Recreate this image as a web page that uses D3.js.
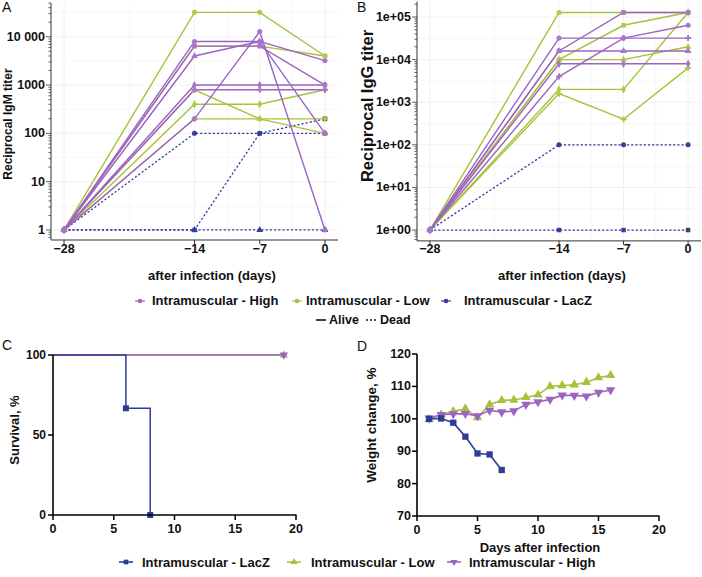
<!DOCTYPE html>
<html><head><meta charset="utf-8">
<script src="https://cdn.jsdelivr.net/npm/d3@7"></script>
<style>
body{margin:0;background:#fff}
text{font-family:"Liberation Sans",Arial,sans-serif}
</style>
</head><body>
<svg id="c" width="702" height="577"></svg>
<script>
// ---------- DATA ----------
const titerDays = [-28, -14, -7, 0];
// Panel A: reciprocal IgM titer per mouse
const igmHigh = [
  [1, 8000, 8000, 3200],
  [1, 6400, 6400, 1000],
  [1, 4000, 8000, 100],
  [1, 1000, 1000, 1000],
  [1, 800, 800, 800],
  [1, 200, 12800, 1]
];
const igmLow = [
  [1, 32000, 32000, 4000],
  [1, 6400, 6400, 4000],
  [1, 800, 200, 100],
  [1, 400, 400, 800],
  [1, 200, 200, 200]
];
const igmLacZ = [
  [1, 100, 100, 100],
  [1, 1, 100, 200],
  [1, 1, 1, 1]
];
// Panel B: reciprocal IgG titer per mouse
const iggHigh = [
  [1, 32000, 32000, 64000],
  [1, 16000, 128000, 128000],
  [1, 16000, 16000, 16000],
  [1, 8000, 8000, 8000],
  [1, 4000, 32000, 32000]
];
const iggLow = [
  [1, 128000, 128000, 128000],
  [1, 10000, 64000, 128000],
  [1, 10000, 10000, 20000],
  [1, 2000, 2000, 128000],
  [1, 1600, 400, 6400]
];
const iggLacZ = [
  [1, 100, 100, 100],
  [1, 1, 1, 1]
];
const igmTicks = [1, 10, 100, 1000, 10000];
const igmTickLabels = ["1", "10", "100", "1000", "10 000"];
const iggTicks = [1, 10, 100, 1000, 10000, 100000];
const iggTickLabels = ["1e+00", "1e+01", "1e+02", "1e+03", "1e+04", "1e+05"];

// Panel C: survival
const survLacZDays = [0, 6, 8];
const survLacZ = [100, 66.7, 0];
const survLowDays = [0, 19];
const survLow = [100, 100];
const survHighDays = [0, 19];
const survHigh = [100, 100];

// Panel D: weight change
const weightDays = [1,2,3,4,5,6,7,8,9,10,11,12,13,14,15,16];
const weightLacZ = [100, 100.1, 98.8, 94.5, 89.3, 89.0, 84.2];
const weightLow = [99.8, 101.3, 102.3, 103.1, 100.4, 104.4, 105.7, 105.8, 106.6, 107.4, 110.0, 110.3, 110.5, 111.3, 112.7, 113.4];
const weightHigh = [100.2, 101.3, 101.5, 101.6, 100.9, 102.6, 102.1, 102.4, 104.4, 105.2, 106.0, 107.3, 107.2, 107.0, 108.1, 108.9];

const groupNames = ["Intramuscular - High", "Intramuscular - Low", "Intramuscular - LacZ"];

// ---------- STYLE ----------
const PURPLE = "#9d63c3", GREEN = "#a6c23b", BLUE = "#2e3c98";
const PURPLE_M = "#a874cc", GREEN_M = "#b0c94a", BLUE_M = "#34409c";
const FONT = '"Liberation Sans", Arial, sans-serif';
const svg = d3.select("#c");

function txt(x, y, s, size, opts = {}) {
  const t = svg.append("text").attr("x", x).attr("y", y).text(s)
    .attr("font-size", size).attr("font-weight", opts.weight || "bold")
    .attr("fill", opts.fill || "#111")
    .attr("text-anchor", opts.anchor || "start")
    .attr("dominant-baseline", opts.baseline || "central");
  if (opts.rotate) t.attr("transform", `rotate(-90 ${x} ${y})`);
  return t;
}

const markShapes = [d3.symbolCircle, d3.symbolSquare, d3.symbolTriangle, d3.symbolDiamond, d3.symbolCross, d3.symbolCircle];

function drawTiter(p) {
  const g = svg.append("g");
  const x = d3.scaleLinear().domain(p.xDomain).range(p.xRange);
  const y = d3.scaleLog().domain(p.yDomain).range(p.yRange);
  const [xl, xr] = p.xRange, [yb, yt] = p.yRange;
  // grid (major + minor, very faint)
  const ld = d3.range(Math.floor(Math.log10(p.yDomain[0])), Math.ceil(Math.log10(p.yDomain[1])) + 1);
  ld.forEach(d => {
    const mv = Math.pow(10, d + 0.5);
    if (mv > p.yDomain[0] && mv < p.yDomain[1])
      g.append("line").attr("x1", xl).attr("x2", xr).attr("y1", y(mv)).attr("y2", y(mv)).attr("stroke", "#f2f2f2").attr("stroke-width", 0.6);
  });
  p.yTicks.forEach(v => g.append("line").attr("x1", xl).attr("x2", xr).attr("y1", y(v)).attr("y2", y(v)).attr("stroke", "#ebebeb").attr("stroke-width", 0.7));
  [-21, -10.5, -3.5].forEach(v => g.append("line").attr("x1", x(v)).attr("x2", x(v)).attr("y1", yb).attr("y2", yt).attr("stroke", "#f2f2f2").attr("stroke-width", 0.6));
  titerDays.forEach(v => g.append("line").attr("x1", x(v)).attr("x2", x(v)).attr("y1", yb).attr("y2", yt).attr("stroke", "#ebebeb").attr("stroke-width", 0.7));

  // lines
  const line = d3.line().x((d, i) => x(titerDays[i])).y(d => y(d));
  p.groups.forEach(gr => gr.data.forEach(vals => {
    g.append("path").attr("d", line(vals)).attr("fill", "none")
      .attr("stroke", gr.color).attr("stroke-width", gr.dashed ? 1.3 : 1.4)
      .attr("stroke-dasharray", gr.dashed ? "2.2,2" : null);
  }));
  // markers
  p.groups.forEach(gr => gr.data.forEach((vals, k) => {
    const sym = d3.symbol().type(markShapes[k % markShapes.length]).size(20);
    vals.forEach((v, i) => {
      g.append("path").attr("d", sym()).attr("transform", `translate(${x(titerDays[i])},${y(v)})`)
        .attr("fill", (gr.dashed && k === 1 && i === 3) ? "#3c3f6e" : gr.mark);
    });
  }));

  // axes
  const ax = svg.append("g");
  ax.append("line").attr("x1", xl).attr("x2", xl).attr("y1", yb).attr("y2", yt).attr("stroke", "#333").attr("stroke-width", 1);
  ax.append("line").attr("x1", xl).attr("x2", xr).attr("y1", yb).attr("y2", yb).attr("stroke", "#333").attr("stroke-width", 1);
  // log minor ticks
  ld.forEach(d => {
    for (let k = 1; k <= 9; k++) {
      const v = k * Math.pow(10, d);
      if (v < p.yDomain[0] || v > p.yDomain[1]) continue;
      const len = k === 1 ? 5 : 2.5;
      ax.append("line").attr("x1", xl - len).attr("x2", xl).attr("y1", y(v)).attr("y2", y(v)).attr("stroke", "#333").attr("stroke-width", 0.8);
    }
  });
  p.yTicks.forEach((v, i) => txt(xl - 6, y(v), p.yLabels[i], 12.5, { anchor: "end" }));
  titerDays.forEach(v => {
    ax.append("line").attr("x1", x(v)).attr("x2", x(v)).attr("y1", yb).attr("y2", yb + 4).attr("stroke", "#333");
    txt(x(v), yb + 8.5, v < 0 ? "\u2212" + Math.abs(v) : String(v), 12.5, { anchor: "middle" });
  });
  txt(p.xTitlePos[0], p.xTitlePos[1], "after infection (days)", 13, { anchor: "middle" });
  txt(p.yTitlePos[0], p.yTitlePos[1], p.yTitle, p.yTitleSize, { anchor: "middle", rotate: true });
}

drawTiter({
  xDomain: [-29.4, 1.4], xRange: [51, 338],
  yDomain: [Math.pow(10, -0.2076), Math.pow(10, 4.699)], yRange: [240, 3],
  yTicks: igmTicks, yLabels: igmTickLabels,
  groups: [
    { data: igmLacZ, color: BLUE, mark: BLUE_M, dashed: true },
    { data: igmLow, color: GREEN, mark: GREEN_M },
    { data: igmHigh, color: PURPLE, mark: PURPLE_M }
  ],
  xTitlePos: [212, 275], yTitlePos: [8, 124], yTitle: "Reciprocal IgM titer", yTitleSize: 12
});
drawTiter({
  xDomain: [-29.4, 1.4], xRange: [417, 701],
  yDomain: [Math.pow(10, -0.255), Math.pow(10, 5.362)], yRange: [240.9, 1.6],
  yTicks: iggTicks, yLabels: iggTickLabels,
  groups: [
    { data: iggLacZ, color: BLUE, mark: BLUE_M, dashed: true },
    { data: iggLow, color: GREEN, mark: GREEN_M },
    { data: iggHigh, color: PURPLE, mark: PURPLE_M }
  ],
  xTitlePos: [562, 275], yTitlePos: [367, 106], yTitle: "Reciprocal IgG titer", yTitleSize: 16.5
});

// panel letters
txt(2, 12, "A", 14, { weight: "normal", baseline: "alphabetic" });
txt(357, 12, "B", 14, { weight: "normal", baseline: "alphabetic" });
txt(2, 350, "C", 14, { weight: "normal", baseline: "alphabetic" });
txt(357, 351, "D", 14, { weight: "normal", baseline: "alphabetic" });

// top legend
const topLeg = [
  { name: groupNames[0], color: PURPLE, cx: 140, tx: 152 },
  { name: groupNames[1], color: GREEN, cx: 297, tx: 306 },
  { name: groupNames[2], color: BLUE, cx: 446, tx: 464 }
];
topLeg.forEach(l => {
  svg.append("line").attr("x1", l.cx - 5).attr("x2", l.cx + 5).attr("y1", 301).attr("y2", 301).attr("stroke", l.color).attr("stroke-width", 1.2);
  svg.append("path").attr("d", d3.symbol().type(d3.symbolCircle).size(16)()).attr("transform", `translate(${l.cx},301)`).attr("fill", l.color);
  txt(l.tx, 300.5, l.name, 13);
});
svg.append("line").attr("x1", 316).attr("x2", 326).attr("y1", 320).attr("y2", 320).attr("stroke", "#111").attr("stroke-width", 1.6);
txt(329, 320, "Alive", 12.5);
svg.append("line").attr("x1", 366).attr("x2", 377).attr("y1", 320).attr("y2", 320).attr("stroke", "#111").attr("stroke-width", 1.6).attr("stroke-dasharray", "2,2");
txt(380, 320, "Dead", 12.5);

// ---------- Panel C ----------
(function () {
  const x = d3.scaleLinear().domain([0, 20]).range([53, 296]);
  const y = d3.scaleLinear().domain([0, 100]).range([515, 355]);
  const g = svg.append("g");
  const step = d3.line().curve(d3.curveStepAfter).x(d => x(d[0])).y(d => y(d[1]));
  const series = [
    { d: d3.zip(survLowDays, survLow), c: GREEN },
    { d: d3.zip(survHighDays, survHigh), c: PURPLE },
    { d: d3.zip(survLacZDays, survLacZ), c: BLUE }
  ];
  series.forEach(s => g.append("path").attr("d", step(s.d)).attr("fill", "none").attr("stroke", s.c).attr("stroke-width", 1.5));
  // markers at events / censoring
  g.append("path").attr("d", d3.symbol().type(d3.symbolTriangle).size(30)()).attr("transform", `translate(${x(survLowDays[1])},${y(survLow[1])})`).attr("fill", GREEN);
  g.append("path").attr("d", d3.symbol().type(d3.symbolTriangle).size(30)()).attr("transform", `translate(${x(survHighDays[1])},${y(survHigh[1])}) rotate(180)`).attr("fill", PURPLE);
  [1, 2].forEach(i => g.append("path").attr("d", d3.symbol().type(d3.symbolSquare).size(36)()).attr("transform", `translate(${x(survLacZDays[i])},${y(survLacZ[i])})`).attr("fill", BLUE));
  // axes
  g.append("line").attr("x1", 53).attr("x2", 53).attr("y1", 355).attr("y2", 515.7).attr("stroke", "#000").attr("stroke-width", 1.6);
  g.append("line").attr("x1", 53).attr("x2", 296.5).attr("y1", 515).attr("y2", 515).attr("stroke", "#000").attr("stroke-width", 1.6);
  [0, 50, 100].forEach(v => {
    g.append("line").attr("x1", 48).attr("x2", 53).attr("y1", y(v)).attr("y2", y(v)).attr("stroke", "#000").attr("stroke-width", 1.5);
    txt(46, y(v), String(v), 12, { anchor: "end" });
  });
  [0, 5, 10, 15, 20].forEach(v => {
    g.append("line").attr("x1", x(v)).attr("x2", x(v)).attr("y1", 515).attr("y2", 520).attr("stroke", "#000").attr("stroke-width", 1.5);
    txt(x(v), 529, String(v), 12.5, { anchor: "middle" });
  });
  txt(14, 430, "Survival, %", 13, { anchor: "middle", rotate: true });
})();

// ---------- Panel D ----------
(function () {
  const x = d3.scaleLinear().domain([0, 20]).range([417, 659]);
  const y = d3.scaleLinear().domain([70, 120]).range([516, 354]);
  const g = svg.append("g");
  const line = d3.line().x((d, i) => x(weightDays[i])).y(d => y(d));
  const series = [
    { v: weightLow, c: GREEN, sym: d3.symbolTriangle, rot: 0, size: 38 },
    { v: weightHigh, c: PURPLE, sym: d3.symbolTriangle, rot: 180, size: 38 },
    { v: weightLacZ, c: BLUE, sym: d3.symbolSquare, rot: 0, size: 40 }
  ];
  series.forEach(s => {
    g.append("path").attr("d", line(s.v)).attr("fill", "none").attr("stroke", s.c).attr("stroke-width", 1.6);
    s.v.forEach((v, i) => g.append("path").attr("d", d3.symbol().type(s.sym).size(s.size)())
      .attr("transform", `translate(${x(weightDays[i])},${y(v)}) rotate(${s.rot})`).attr("fill", s.c));
  });
  g.append("line").attr("x1", 417).attr("x2", 417).attr("y1", 354).attr("y2", 516.7).attr("stroke", "#000").attr("stroke-width", 1.6);
  g.append("line").attr("x1", 417).attr("x2", 659.5).attr("y1", 516).attr("y2", 516).attr("stroke", "#000").attr("stroke-width", 1.6);
  [70, 80, 90, 100, 110, 120].forEach(v => {
    g.append("line").attr("x1", 412).attr("x2", 417).attr("y1", y(v)).attr("y2", y(v)).attr("stroke", "#000").attr("stroke-width", 1.5);
    txt(411, y(v), String(v), 12.5, { anchor: "end" });
  });
  [0, 5, 10, 15, 20].forEach(v => {
    g.append("line").attr("x1", x(v)).attr("x2", x(v)).attr("y1", 516).attr("y2", 521).attr("stroke", "#000").attr("stroke-width", 1.5);
    txt(x(v), 530, String(v), 12.5, { anchor: "middle" });
  });
  txt(540, 547, "Days after infection", 13, { anchor: "middle" });
  txt(371, 425, "Weight change, %", 13.5, { anchor: "middle", rotate: true });
})();

// bottom legend
const botLeg = [
  { name: groupNames[2], color: BLUE, cx: 126, tx: 142, sym: d3.symbolSquare, rot: 0 },
  { name: groupNames[1], color: GREEN, cx: 294, tx: 311, sym: d3.symbolTriangle, rot: 0 },
  { name: groupNames[0], color: PURPLE, cx: 454, tx: 469, sym: d3.symbolTriangle, rot: 180 }
];
botLeg.forEach(l => {
  svg.append("line").attr("x1", l.cx - 7).attr("x2", l.cx + 7).attr("y1", 562).attr("y2", 562).attr("stroke", l.color).attr("stroke-width", 1.6);
  svg.append("path").attr("d", d3.symbol().type(l.sym).size(22)()).attr("transform", `translate(${l.cx},562) rotate(${l.rot})`).attr("fill", l.color);
  txt(l.tx, 562, l.name, 13);
});
</script>
</body></html>
